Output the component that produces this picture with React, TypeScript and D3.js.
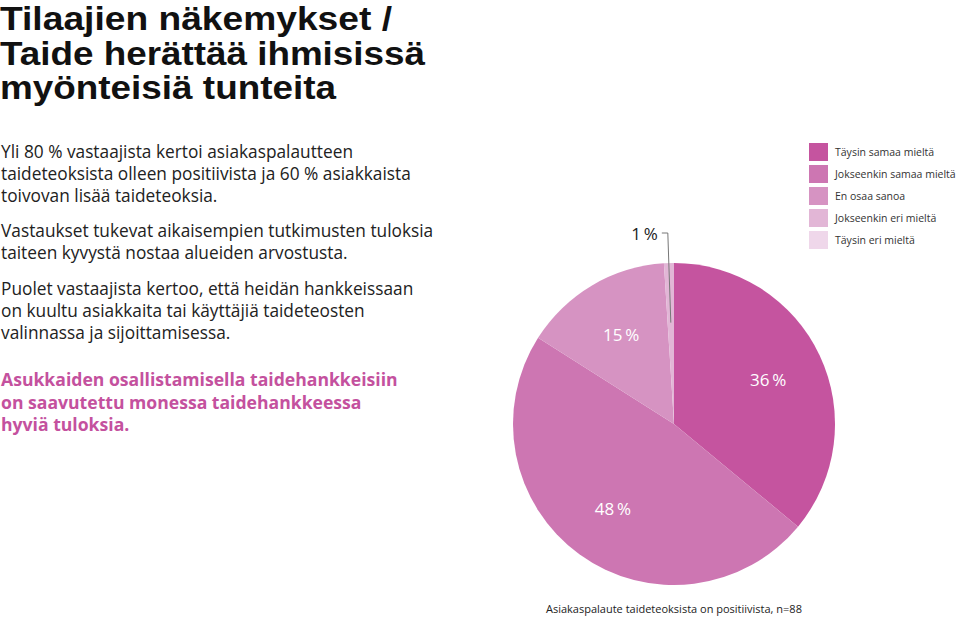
import React from "react";
import * as d3 from "d3";

const categories = [
  "Täysin samaa mieltä",
  "Jokseenkin samaa mieltä",
  "En osaa sanoa",
  "Jokseenkin eri mieltä",
  "Täysin eri mieltä",
];
const values = [36, 48, 15, 1, 0];
const colors = ["#c5549f", "#cd76b2", "#d693c2", "#e2b6d6", "#efd7ea"];

const titleLines = ["Tilaajien näkemykset /", "Taide herättää ihmisissä", "myönteisiä tunteita"];
const titleWidths = [392, 425, 336];
const bodyParas = [
  ["Yli 80 % vastaajista kertoi asiakaspalautteen", "taideteoksista olleen positiivista ja 60 % asiakkaista", "toivovan lisää taideteoksia."],
  ["Vastaukset tukevat aikaisempien tutkimusten tuloksia", "taiteen kyvystä nostaa alueiden arvostusta."],
  ["Puolet vastaajista kertoo, että heidän hankkeissaan", "on kuultu asiakkaita tai käyttäjiä taideteosten", "valinnassa ja sijoittamisessa."],
];
const highlightLines = ["Asukkaiden osallistamisella taidehankkeisiin", "on saavutettu monessa taidehankkeessa", "hyviä tuloksia."];
const caption = "Asiakaspalaute taideteoksista on positiivista, n=88";

const W = 960;
const H = 619;
const FONT = "'Open Sans', 'DejaVu Sans', sans-serif";

export default function App() {
  const cx = 674;
  const cy = 424;
  const r = 161;
  const data = categories.map((c, i) => ({ c, v: values[i], color: colors[i] }));
  const pie = d3.pie<any>().value((d) => d.v).sort(null);
  const arcs = pie(data);
  const arc = d3.arc<any>().innerRadius(0).outerRadius(r);
  const labelArc = d3.arc<any>().innerRadius(104).outerRadius(104);

  const bodyStarts = [158, 237, 295];
  const lh = 22;

  return (
    <svg width={W} height={H} style={{ position: "absolute", left: 0, top: 0, background: "#fff" }} fontFamily={FONT}>
      {titleLines.map((t, i) => (
        <text
          key={i}
          x={0}
          y={30 + i * 34.5}
          fontSize={33}
          fontWeight={700}
          fill="#111"
          fontFamily="'Liberation Sans', Arial, sans-serif"
          textLength={titleWidths[i]}
          lengthAdjust="spacingAndGlyphs"
        >
          {t}
        </text>
      ))}
      {bodyParas.map((p, pi) =>
        p.map((t, li) => (
          <text key={pi + "-" + li} x={1} y={bodyStarts[pi] + li * lh} fontSize={17.3} fill="#222">
            {t}
          </text>
        ))
      )}
      {highlightLines.map((t, i) => (
        <text key={i} x={1} y={386 + i * 22.5} fontSize={17.6} fontWeight={700} fill="#c4519e">
          {t}
        </text>
      ))}

      <g transform={`translate(${cx},${cy})`}>
        {arcs.map((a, i) => (
          <path key={i} d={arc(a) || ""} fill={a.data.color} />
        ))}
        {arcs.map((a, i) => {
          if (a.data.v < 5) return null;
          const [lx, ly] = labelArc.centroid(a);
          return (
            <text key={"l" + i} x={lx} y={ly} textAnchor="middle" dominantBaseline="central" fontSize={17} fill="#fff">
              {a.data.v + "\u2009%"}
            </text>
          );
        })}
        {(() => {
          const a = arcs[3];
          const mid = (a.startAngle + a.endAngle) / 2;
          const rIn = r * 0.63;
          const x0 = Math.sin(mid) * rIn;
          const y0 = -Math.cos(mid) * rIn;
          const yTop = -r - 30;
          const xTop = x0 - 3;
          return (
            <g>
              <polyline points={`${x0},${y0} ${xTop},${yTop} ${xTop - 6},${yTop}`} fill="none" stroke="#777" strokeWidth={1} />
              <text x={xTop - 10} y={yTop} textAnchor="end" dominantBaseline="central" fontSize={17} fill="#222">
                {a.data.v + "\u2009%"}
              </text>
            </g>
          );
        })()}
      </g>

      {data.map((d, i) => (
        <g key={i} transform={`translate(809,${143 + i * 22})`}>
          <rect width={19} height={18} fill={d.color} />
          <text x={26} y={9} dominantBaseline="central" fontSize={10.5} fill="#333">
            {d.c}
          </text>
        </g>
      ))}

      <text x={546} y={613} fontSize={11} fill="#222">
        {caption}
      </text>
    </svg>
  );
}
